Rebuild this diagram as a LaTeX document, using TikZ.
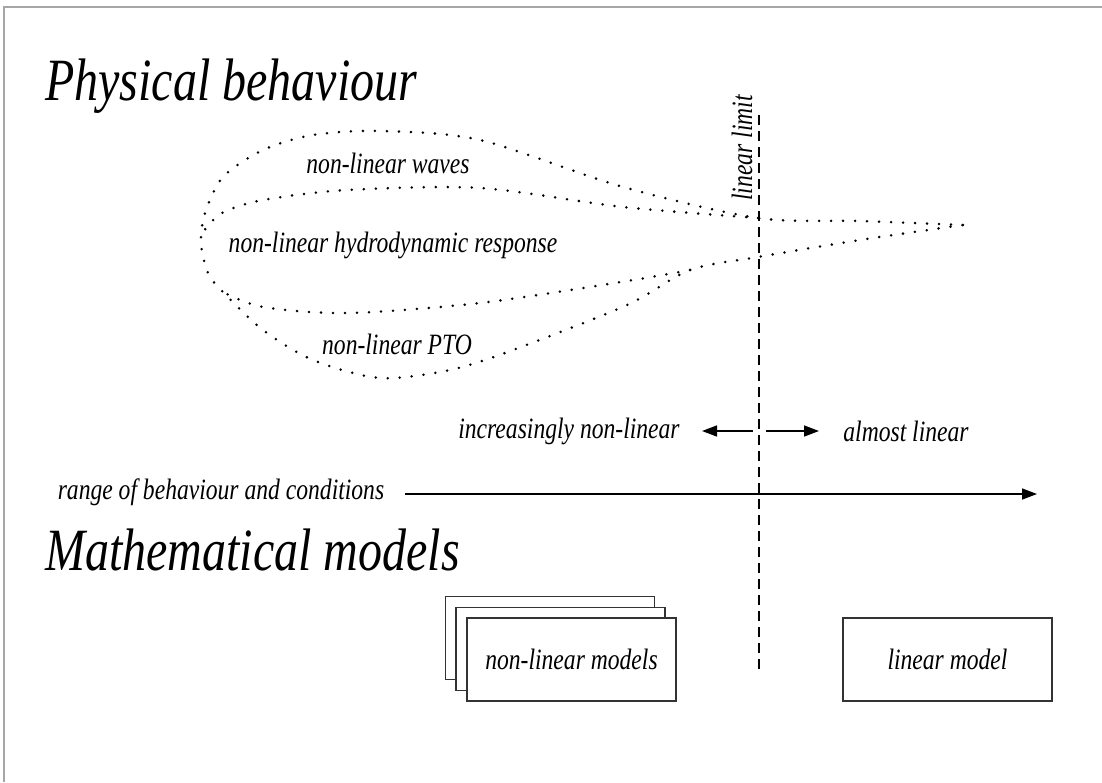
\documentclass[tikz,border=0pt]{standalone}
\usepackage{fontspec}
\setmainfont{Liberation Serif}[FakeStretch=0.8]
\usetikzlibrary{arrows.meta}

\begin{document}
\begin{tikzpicture}
    [x=1pt,y=-1pt,
    % Styles
    frame line/.style={gray!70, line width=2pt},
    title text/.style={anchor=base west, inner sep=0pt, font=\fontsize{60}{70}\selectfont\itshape},
    label text/.style={inner sep=0pt, font=\fontsize{29.5}{34}\selectfont\itshape},
    lobe/.style={line width=2.8pt, line cap=round, dash pattern=on 0pt off 12pt},
    limit line/.style={line width=1.5pt, dash pattern=on 10pt off 6pt},
    range arrow/.style={line width=1.5pt, -{Triangle[length=15pt,width=11pt]}},
    model box/.style={label text, draw=black!80, line width=1.3pt, fill=white,
        minimum width=209pt, minimum height=83pt}]

    \useasboundingbox (0,0) rectangle (1102,782);

    % Coordinates
    \coordinate (tip) at (963,225);
    \coordinate (limit top) at (759,115);
    \coordinate (limit bottom) at (759,670);
    \coordinate (left from) at (753,431);
    \coordinate (left to) at (702,431);
    \coordinate (right from) at (766,431);
    \coordinate (right to) at (819,431);
    \coordinate (range from) at (405,494);
    \coordinate (range to) at (1037,494);

    % Frame
    \draw[frame line] (1102,7) -- (4,7) -- (4,782);

    % Titles
    \node[title text] (phys title) at (45,100) {Physical behaviour};
    \node[title text] (math title) at (45,570) {Mathematical models};

    % Lobes
    \draw[lobe] plot[smooth] coordinates {(tip) (860,221) (758,218) (623,187) (480,140)
        (380,131) (313,135) (263,150) (223,177) (205,213) (201,243) (208,273) (223,292)
        (263,330) (313,360) (380,378) (450,370) (513,350) (627,305) (690,270) (758,257)
        (860,240) (tip)};
    \draw[lobe] plot[smooth] coordinates {(758,218) (623,207) (480,188) (347,190)
        (263,200) (222,213) (203,232)};
    \draw[lobe] plot[smooth] coordinates {(690,270) (627,281) (480,303) (347,313)
        (263,307) (223,292)};

    \node[label text] (waves) at (388,163) {non-linear waves};
    \node[label text] (hydro) at (393,245) {non-linear hydrodynamic response};
    \node[label text] (pto) at (397,344) {non-linear PTO};

    % Linear limit
    \draw[limit line] (limit top) -- (limit bottom);
    \node[label text, rotate=90] (limit label) at (742,148) {linear limit};

    \node[label text] (increasing) at (569,431) {increasingly non-linear};
    \node[label text] (almost) at (906,431) {almost linear};
    \draw[range arrow] (left from) -- (left to);
    \draw[range arrow] (right from) -- (right to);

    \node[label text] (range) at (221,492) {range of behaviour and conditions};
    \draw[range arrow] (range from) -- (range to);

    % Models
    \node[model box] (nl back) at (550,638) {};
    \node[model box] (nl middle) at (560.5,649) {};
    \node[model box] (nl front) at (571.5,659.5) {non-linear models};
    \node[model box] (lin) at (947.5,659.5) {linear model};

\end{tikzpicture}
\end{document}
